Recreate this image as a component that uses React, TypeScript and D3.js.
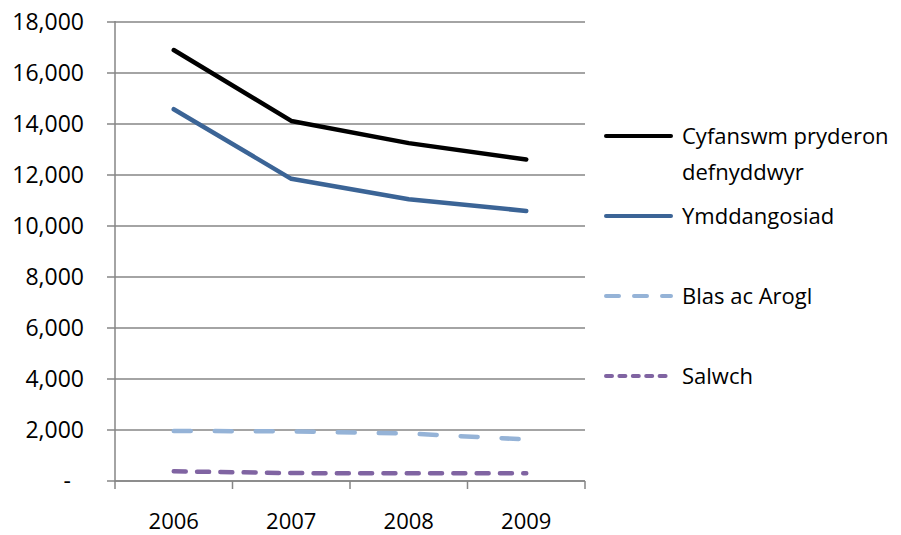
import React from 'react';
import * as d3 from 'd3';

const years = ['2006', '2007', '2008', '2009'];
const totalConcerns = [16900, 14120, 13250, 12610];
const appearance = [14580, 11850, 11050, 10590];
const tasteSmell = [1960, 1950, 1860, 1630];
const illness = [380, 310, 300, 300];
const yTicks = [0, 2000, 4000, 6000, 8000, 10000, 12000, 14000, 16000, 18000];

const series = [
    { name: ['Cyfanswm pryderon', 'defnyddwyr'], values: totalConcerns, color: '#000000', dash: null, legendDash: null },
    { name: ['Ymddangosiad'], values: appearance, color: '#3B6496', dash: null, legendDash: null },
    { name: ['Blas ac Arogl'], values: tasteSmell, color: '#95B3D7', dash: '17,24', legendDash: '13,15' },
    { name: ['Salwch'], values: illness, color: '#8064A2', dash: '12,11.3', legendDash: '6,7.4' },
];

export default function App() {
    const width = 901, height = 535;
    const left = 115, right = 585, top = 22, bottom = 481;
    const font = "'Open Sans', sans-serif";

    const x = d3.scaleBand().domain(years).range([left, right]).padding(0);
    const y = d3.scaleLinear().domain([0, 18000]).range([bottom, top]);
    const cx = (d: string) => (x(d) as number) + x.bandwidth() / 2;

    const line = d3.line<number>()
        .x((_, i) => cx(years[i]))
        .y(d => y(d));

    const fmt = (v: number) => v === 0 ? '-' : d3.format(',')(v);
    const legendY = [136, 216, 296, 376];

    return (
        <svg width={width} height={height} style={{ position: 'absolute', left: 0, top: 0, background: '#fff' }}>
            {/* gridlines + y ticks */}
            {yTicks.map(t => (
                <g key={t}>
                    <line x1={left} x2={right} y1={y(t)} y2={y(t)} stroke="#868686" strokeWidth={1.5} />
                    <line x1={107} x2={left} y1={y(t)} y2={y(t)} stroke="#868686" strokeWidth={1.5} />
                    <text x={t === 0 ? 71 : 84} y={y(t) + 8} textAnchor="end" fontFamily={font} fontSize={23} fill="#000">
                        {fmt(t)}
                    </text>
                </g>
            ))}
            <line x1={left} x2={left} y1={top - 1} y2={bottom + 1} stroke="#868686" strokeWidth={1.5} />
            <line x1={left} x2={right} y1={bottom} y2={bottom} stroke="#868686" strokeWidth={1.5} />
            {/* x ticks */}
            {[...years.map(d => x(d) as number), right].map((v, i) => (
                <line key={i} x1={v} x2={v} y1={bottom} y2={489} stroke="#868686" strokeWidth={1.5} />
            ))}
            {years.map(d => (
                <text key={d} x={cx(d)} y={529} textAnchor="middle" fontFamily={font} fontSize={22} fill="#000">{d}</text>
            ))}
            {/* series */}
            {series.map(s => (
                <path key={s.name[0]} d={line(s.values) as string} fill="none" stroke={s.color} strokeWidth={4.5}
                    strokeLinecap="round" strokeLinejoin="round" strokeDasharray={s.dash ?? undefined} />
            ))}
            {/* legend */}
            {series.map((s, i) => (
                <g key={'lg' + i}>
                    <line x1={606} x2={671} y1={legendY[i]} y2={legendY[i]} stroke={s.color} strokeWidth={4}
                        strokeLinecap="round" strokeDasharray={s.legendDash ?? undefined} />
                    {s.name.map((n, j) => (
                        <text key={n} x={682} y={legendY[i] + 8 + j * 36} fontFamily={font} fontSize={22} fill="#000">{n}</text>
                    ))}
                </g>
            ))}
        </svg>
    );
}
